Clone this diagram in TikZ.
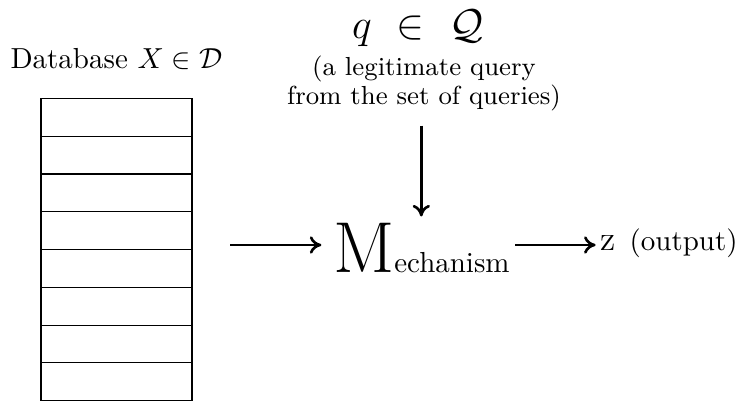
\documentclass[tikz,border=0pt]{standalone}
\usetikzlibrary{arrows.meta}
\begin{document}
\begin{tikzpicture}[x=0.345pt,y=-0.345pt,
  arr/.style={-{To[length=4pt,width=6pt]}, line width=0.9pt},
  tbl/.style={draw, line width=0.4pt, minimum width=52.1pt, minimum height=104.3pt, inner sep=0pt, outer sep=0pt},
  lbl/.style={inner sep=0pt, outer sep=0pt}]
\useasboundingbox (0,0) rectangle (751,402);
% database
\node[tbl] (db) at (116.5,249.5) {};
\foreach \i in {1,...,7}{
  \draw[line width=0.4pt] ([yshift=-\i*13.04pt]db.north west) -- ([yshift=-\i*13.04pt]db.north east);
}
\node[lbl, anchor=base] (dbt) at (116.5,69) {Database $X\in\mathcal{D}$};
% query
\node[lbl, anchor=base, font=\Large] (q) at (418,39) {$q\ \in\ \mathcal{Q}$};
\node[lbl, anchor=north, font=\small, align=center] (ql) at (424,56) {(a legitimate query\\[-1pt]from the set of queries)};
% mechanism
\node[lbl, anchor=base west] (mech) at (333,273) {{\Huge M}echanism};
% output
\node[lbl, anchor=base west] (out) at (600,251) {{\large z}\hspace{5pt}(output)};
\coordinate (lin) at (230,245);
% connectors
\draw[arr, shorten >=4pt] (lin) -- (lin -| mech.west);
\draw[arr, shorten <=5pt, shorten >=2.5pt] (mech.north |- ql.south) -- (mech.north);
\draw[arr, shorten <=2pt, shorten >=1.5pt] (mech.east |- lin) -- (out.west |- lin);
\end{tikzpicture}
\end{document}
